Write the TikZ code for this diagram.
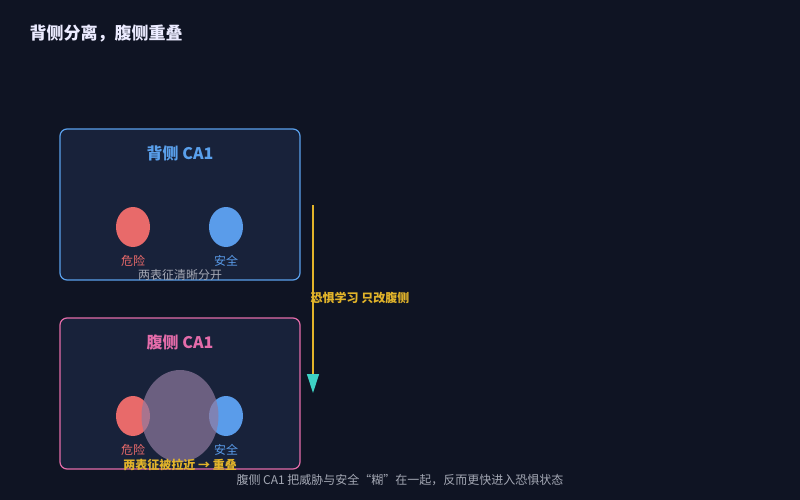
\documentclass[tikz,border=0pt]{standalone}
\usepackage{fontspec}
\setmainfont{Noto Sans CJK SC}
\usetikzlibrary{calc,arrows.meta,shapes.geometric}
\definecolor{BgColor}{HTML}{0F1423}
\definecolor{PanelFill}{HTML}{18223A}
\definecolor{DorsalBlue}{HTML}{5AA0EC}
\definecolor{VentralPink}{HTML}{E46CAA}
\definecolor{DangerRed}{HTML}{E86A6A}
\definecolor{SafeBlue}{HTML}{5A9CEA}
\definecolor{MergeGray}{HTML}{8F799E}
\definecolor{ArrowGold}{HTML}{E2B42A}
\definecolor{ArrowCyan}{HTML}{3ED2C4}
\definecolor{NoteGray}{HTML}{A4A8B4}
\tikzset{%
	% Style of the panel
	Panel/.style={draw=#1,line width=1.2pt,fill=PanelFill,rounded corners=7pt},
	% Style of the panel title
	PanelName/.style={font=\fontsize{16}{18}\selectfont\bfseries,text=#1},
	% Style of the representation
	Rep/.style={ellipse,fill=#1,inner sep=0,minimum width=34pt,minimum height=40pt},
	% Style of the representation label
	RepName/.style={font=\fontsize{12}{14}\selectfont,text=#1},
	% Style of the note
	NoteName/.style={font=\fontsize{12}{14}\selectfont,text=#1},
}

\begin{document}
\begin{tikzpicture}[x=1pt,y=-1pt]
\fill[BgColor] (0,0) rectangle (800,500);
\useasboundingbox (0,0) rectangle (800,500);

\node[anchor=west,font=\fontsize{17}{20}\selectfont\bfseries,text=white!92!blue] (Title) at (26,33) {背侧分离，腹侧重叠};

%~~~~~~~~~~~~~~~~~~~~~~~~~~~~~~~~~~~~~~~~~~~~~~~~~~
% Dorsal panel
%~~~~~~~~~~~~~~~~~~~~~~~~~~~~~~~~~~~~~~~~~~~~~~~~~~
\draw[Panel=DorsalBlue] (60,129) rectangle (300,280);
\node[PanelName=DorsalBlue] (D0) at (180,153) {背侧 CA1};

\node[Rep=DangerRed] (D1) at (133,227) {};
\node[RepName=DangerRed] at ($ (D1) + (0, 34) $) {危险};

\node[Rep=SafeBlue] (D2) at (226,227) {};
\node[RepName=SafeBlue] at ($ (D2) + (0, 34) $) {安全};

\node[NoteName=NoteGray] (D3) at (180,275) {两表征清晰分开};

%~~~~~~~~~~~~~~~~~~~~~~~~~~~~~~~~~~~~~~~~~~~~~~~~~~
% Ventral panel
%~~~~~~~~~~~~~~~~~~~~~~~~~~~~~~~~~~~~~~~~~~~~~~~~~~
\draw[Panel=VentralPink] (60,318) rectangle (300,469);
\node[PanelName=VentralPink] (V0) at (180,342) {腹侧 CA1};

\node[Rep=DangerRed] (V1) at (133,416) {};
\node[RepName=DangerRed] at ($ (V1) + (0, 34) $) {危险};

\node[Rep=SafeBlue] (V2) at (226,416) {};
\node[RepName=SafeBlue] at ($ (V2) + (0, 34) $) {安全};

\node[ellipse,fill=MergeGray,fill opacity=0.7,inner sep=0,minimum width=77pt,minimum height=92pt] (V3) at (180,416) {};

\node[NoteName=ArrowGold,font=\fontsize{12}{14}\selectfont\bfseries] (V4) at (180,465) {两表征被拉近 → 重叠};

%~~~~~~~~~~~~~~~~~~~~~~~~~~~~~~~~~~~~~~~~~~~~~~~~~~
% Learning arrow
%~~~~~~~~~~~~~~~~~~~~~~~~~~~~~~~~~~~~~~~~~~~~~~~~~~
\coordinate (A1) at (313,205);
\coordinate (A2) at (313,393);
\draw[ArrowGold,line width=1.3pt,-{Triangle[length=19pt,width=12pt,color=ArrowCyan]}] (A1) -- (A2);
\node[font=\fontsize{12}{14}\selectfont\bfseries,text=ArrowGold] at (360,298) {恐惧学习 只改腹侧};

\node[NoteName=NoteGray] (N1) at (400,480) {腹侧 CA1 把威胁与安全“糊”在一起，反而更快进入恐惧状态};

\end{tikzpicture}
\end{document}
